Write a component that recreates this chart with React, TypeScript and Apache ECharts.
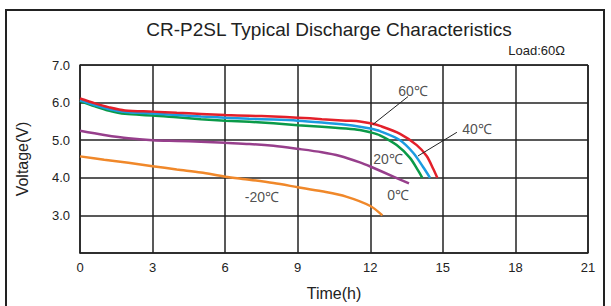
import React, { useEffect, useRef } from "react";
import * as echarts from "echarts";

const xTicks = [0, 3, 6, 9, 12, 15, 18, 21];
const yTickLabels = ["", "3.0", "4.0", "5.0", "6.0", "7.0"];

const red60: number[][] = [[0, 6.11], [0.62, 5.98], [1.17, 5.88], [1.86, 5.79], [3, 5.76], [4, 5.73], [5, 5.7], [6, 5.67], [7, 5.65], [8, 5.63], [9, 5.6], [10, 5.56], [11, 5.52], [11.57, 5.5], [12, 5.45], [12.4, 5.38], [13.23, 5.17], [13.92, 4.87], [14.33, 4.58], [14.6, 4.24], [14.77, 4.0]];
const blue40: number[][] = [[0, 6.06], [0.62, 5.93], [1.17, 5.83], [1.86, 5.75], [3, 5.71], [4, 5.67], [5, 5.63], [6, 5.6], [7, 5.57], [8, 5.55], [9, 5.52], [10, 5.47], [11, 5.41], [11.57, 5.36], [12, 5.31], [12.4, 5.24], [13.23, 5.0], [13.78, 4.66], [14.19, 4.28], [14.47, 4.0]];
const green20: number[][] = [[0, 6.04], [0.62, 5.9], [1.17, 5.79], [1.86, 5.7], [3, 5.66], [4, 5.61], [5, 5.56], [6, 5.52], [7, 5.49], [8, 5.45], [9, 5.4], [10, 5.36], [11, 5.31], [11.57, 5.27], [12, 5.21], [12.4, 5.13], [13.09, 4.87], [13.64, 4.53], [13.98, 4.19], [14.15, 4.0]];
const purple0: number[][] = [[0, 5.25], [1, 5.14], [2, 5.05], [3, 5.0], [4, 4.98], [5, 4.96], [6, 4.93], [7, 4.9], [8, 4.85], [9, 4.77], [10, 4.68], [10.75, 4.58], [11.57, 4.41], [12, 4.3], [13, 4.02], [13.6, 3.85]];
const orangeM20: number[][] = [[0, 4.57], [1, 4.48], [2, 4.4], [3, 4.31], [4, 4.22], [5, 4.14], [6, 4.03], [7, 3.95], [8, 3.86], [9, 3.75], [10, 3.64], [11, 3.5], [12, 3.25], [12.5, 3.0]];

const tempLabels: [number, number, string][] = [
  [13.77, 6.31, "60℃"],
  [16.41, 5.29, "40℃"],
  [12.73, 4.5, "20℃"],
  [13.15, 3.53, "0℃"],
  [7.52, 3.48, "-20℃"],
];
const leader60: number[][] = [[12.11, 5.42], [13.56, 6.16]];
const leader40: number[][] = [[13.97, 4.58], [15.58, 5.21]];

const FONT = "Liberation Sans, Arial, sans-serif";

export default function App() {
  const ref = useRef<HTMLDivElement>(null);
  useEffect(() => {
    if (!ref.current) return;
    const chart = echarts.init(ref.current, null, { renderer: "svg" });
    const lineS = (name: string, data: number[][], color: string) => ({
      name,
      type: "line",
      data,
      smooth: 0.3,
      showSymbol: false,
      symbol: "none",
      lineStyle: { color, width: 2.5 },
      z: 3,
    });
    const leader = (data: number[][]) => ({
      type: "line",
      data,
      symbol: "none",
      lineStyle: { color: "#222", width: 1 },
      silent: true,
      z: 4,
    });
    chart.setOption({
      animation: false,
      textStyle: { fontFamily: FONT },
      title: {
        text: "CR-P2SL Typical Discharge Characteristics",
        left: 324,
        top: 15,
        textAlign: "center",
        textStyle: { fontSize: 19, fontWeight: "normal", color: "#222", fontFamily: FONT },
      },
      graphic: [
        {
          type: "rect",
          shape: { x: 6, y: 10, width: 598, height: 310 },
          style: { fill: "none", stroke: "#222", lineWidth: 2 },
          silent: true,
        },
        {
          type: "text",
          right: 46,
          top: 44,
          style: { text: "Load:60Ω", fontSize: 13, fill: "#222", fontFamily: FONT },
        },
      ],
      grid: { left: 80, right: 23, top: 65, bottom: 45, show: false },
      xAxis: {
        type: "value",
        min: 0,
        max: 21,
        interval: 3,
        name: "Time(h)",
        nameLocation: "middle",
        nameGap: 32,
        nameTextStyle: { fontSize: 16, color: "#222", fontFamily: FONT },
        axisLine: { show: true, lineStyle: { color: "#222", width: 1.5 } },
        axisTick: { show: false },
        splitLine: { show: true, lineStyle: { color: "#222", width: 1.5 } },
        axisLabel: {
          fontSize: 13,
          color: "#222",
          margin: 8,
          formatter: (v: number) => (xTicks.includes(v) ? String(v) : ""),
        },
      },
      yAxis: {
        type: "value",
        min: 2,
        max: 7,
        interval: 1,
        name: "Voltage(V)",
        nameLocation: "middle",
        nameGap: 50,
        nameTextStyle: { fontSize: 16, color: "#222", fontFamily: FONT },
        axisLine: { show: true, lineStyle: { color: "#222", width: 1.5 } },
        axisTick: { show: false },
        splitLine: { show: true, lineStyle: { color: "#222", width: 1.5 } },
        axisLabel: {
          fontSize: 13,
          color: "#222",
          margin: 10,
          formatter: (v: number) => yTickLabels[Math.round(v) - 2] ?? "",
        },
      },
      series: [
        {
          type: "line",
          data: [[21, 2], [21, 7]],
          symbol: "none",
          lineStyle: { color: "#222", width: 1.5 },
          silent: true,
          z: 2,
        },
        {
          type: "line",
          data: [[0, 7], [21, 7]],
          symbol: "none",
          lineStyle: { color: "#222", width: 1.5 },
          silent: true,
          z: 2,
        },
        lineS("-20℃", orangeM20, "#f0882a"),
        lineS("0℃", purple0, "#973f8c"),
        lineS("20℃", green20, "#0a9a48"),
        lineS("40℃", blue40, "#1b9be0"),
        lineS("60℃", red60, "#e3202a"),
        leader(leader60),
        leader(leader40),
        {
          type: "scatter",
          symbolSize: 0,
          silent: true,
          data: tempLabels.map((d) => ({ value: [d[0], d[1]], name: d[2] })),
          label: {
            show: true,
            position: "inside",
            formatter: (p: any) => p.name,
            fontSize: 14,
            color: "#222",
            fontFamily: FONT,
          },
          z: 5,
        },
      ],
    });
    return () => chart.dispose();
  }, []);
  return (
    <div
      ref={ref}
      style={{ position: "fixed", left: 0, top: 0, width: 611, height: 306, background: "#fff" }}
    />
  );
}
